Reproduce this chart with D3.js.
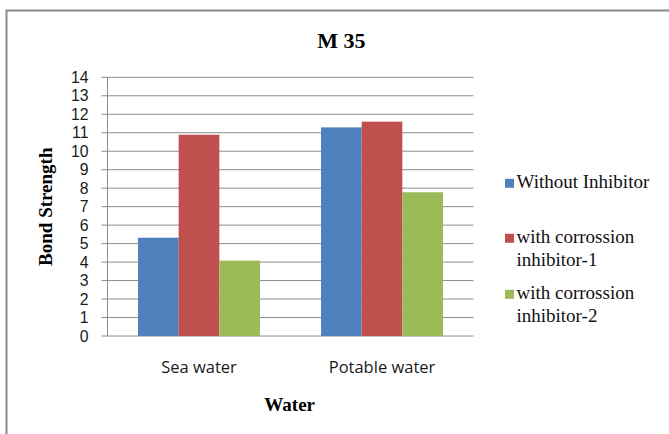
<!DOCTYPE html>
<html>
<head>
<meta charset="utf-8">
<script src="https://cdn.jsdelivr.net/npm/d3@7"></script>
<style>
  html, body { margin: 0; padding: 0; background: #fff; }
  svg { display: block; }
</style>
</head>
<body>
<svg id="chart" width="669" height="434"></svg>
<script>
// Bond strength of M 35 concrete, by water type and inhibitor
const categories = ["Sea water", "Potable water"];
const seriesNames = ["Without Inhibitor", "with corrossion inhibitor-1", "with corrossion inhibitor-2"];
const legendLines = [["Without Inhibitor"], ["with corrossion", "inhibitor-1"], ["with corrossion", "inhibitor-2"]];
const withoutInhibitor = [5.32, 11.29];
const inhibitor1 = [10.89, 11.6];
const inhibitor2 = [4.08, 7.78];
const yTicks = [0, 1, 2, 3, 4, 5, 6, 7, 8, 9, 10, 11, 12, 13, 14];
const colors = ["#4f81bd", "#c0504d", "#9bbb59"];

const seriesValues = [withoutInhibitor, inhibitor1, inhibitor2];

const svg = d3.select("#chart");
const margin = { left: 107.5, right: 473.5, top: 77.3, bottom: 336 };

// chart frame
svg.append("rect")
  .attr("x", 6.5).attr("y", 10.5)
  .attr("width", 700).attr("height", 500)
  .attr("fill", "none").attr("stroke", "#8a8a8a").attr("stroke-width", 2);

const x0 = d3.scaleBand().domain(categories).range([margin.left, margin.right]).paddingInner(0).paddingOuter(0);
const x1 = d3.scaleBand().domain(d3.range(seriesNames.length))
  .range([0, x0.bandwidth()]).paddingInner(0).paddingOuter(0.75);
const y = d3.scaleLinear().domain([0, 14]).range([margin.bottom, margin.top]);

// gridlines
svg.append("g").selectAll("line").data(yTicks).join("line")
  .attr("x1", margin.left - 6).attr("x2", margin.right)
  .attr("y1", d => y(d)).attr("y2", d => y(d))
  .attr("stroke", "#8c8c8c").attr("stroke-width", 1);

// y axis line
svg.append("line")
  .attr("x1", margin.left).attr("x2", margin.left)
  .attr("y1", y(14)).attr("y2", y(0))
  .attr("stroke", "#8c8c8c").attr("stroke-width", 1);

// bars
const groups = svg.append("g").selectAll("g").data(categories).join("g")
  .attr("transform", d => `translate(${x0(d)},0)`);
groups.selectAll("rect")
  .data((c, ci) => seriesValues.map((vals, si) => ({ si, v: vals[ci] })))
  .join("rect")
  .attr("x", d => x1(d.si))
  .attr("width", x1.bandwidth())
  .attr("y", d => y(d.v))
  .attr("height", d => y(0) - y(d.v))
  .attr("fill", d => colors[d.si]);

// y tick labels
svg.append("g").selectAll("text").data(yTicks).join("text")
  .attr("x", 88.5).attr("y", d => y(d))
  .attr("dy", "0.36em")
  .attr("text-anchor", "end")
  .attr("font-family", "'Liberation Sans', Arial, sans-serif")
  .attr("font-size", 15.8)
  .attr("fill", "#1a1a1a")
  .text(d => d);

// x category labels
svg.append("g").selectAll("text").data(categories).join("text")
  .attr("x", d => x0(d) + x0.bandwidth() / 2)
  .attr("y", 373.3)
  .attr("text-anchor", "middle")
  .attr("font-family", "'Open Sans', sans-serif")
  .attr("font-size", 16.5)
  .attr("fill", "#1a1a1a")
  .text(d => d);

// title
svg.append("text")
  .attr("x", 341.5).attr("y", 47.7)
  .attr("text-anchor", "middle")
  .attr("font-family", "'Liberation Serif', 'Times New Roman', serif")
  .attr("font-weight", "bold").attr("font-size", 22)
  .text("M 35");

// axis titles
svg.append("text")
  .attr("x", 289.7).attr("y", 411)
  .attr("text-anchor", "middle")
  .attr("font-family", "'Liberation Serif', 'Times New Roman', serif")
  .attr("font-weight", "bold").attr("font-size", 19)
  .text("Water");

svg.append("text")
  .attr("transform", "translate(52,206.7) rotate(-90)")
  .attr("text-anchor", "middle")
  .attr("font-family", "'Liberation Serif', 'Times New Roman', serif")
  .attr("font-weight", "bold").attr("font-size", 19)
  .text("Bond Strength");

// legend
const legendBaselines = [188.3, 243.3, 299.3];
const legend = svg.append("g").selectAll("g").data(seriesNames).join("g");
legend.append("rect")
  .attr("x", 505).attr("y", (d, i) => legendBaselines[i] - 9.5)
  .attr("width", 9).attr("height", 9)
  .attr("fill", (d, i) => colors[i]);
legend.append("text")
  .attr("x", 516.5).attr("y", (d, i) => legendBaselines[i])
  .attr("font-family", "'Liberation Serif', 'Times New Roman', serif")
  .attr("font-size", 19)
  .attr("fill", "#111")
  .selectAll("tspan").data((d, i) => legendLines[i]).join("tspan")
  .attr("x", 516.5)
  .attr("dy", (d, j) => j === 0 ? 0 : 22.5)
  .text(d => d);
</script>
</body>
</html>
